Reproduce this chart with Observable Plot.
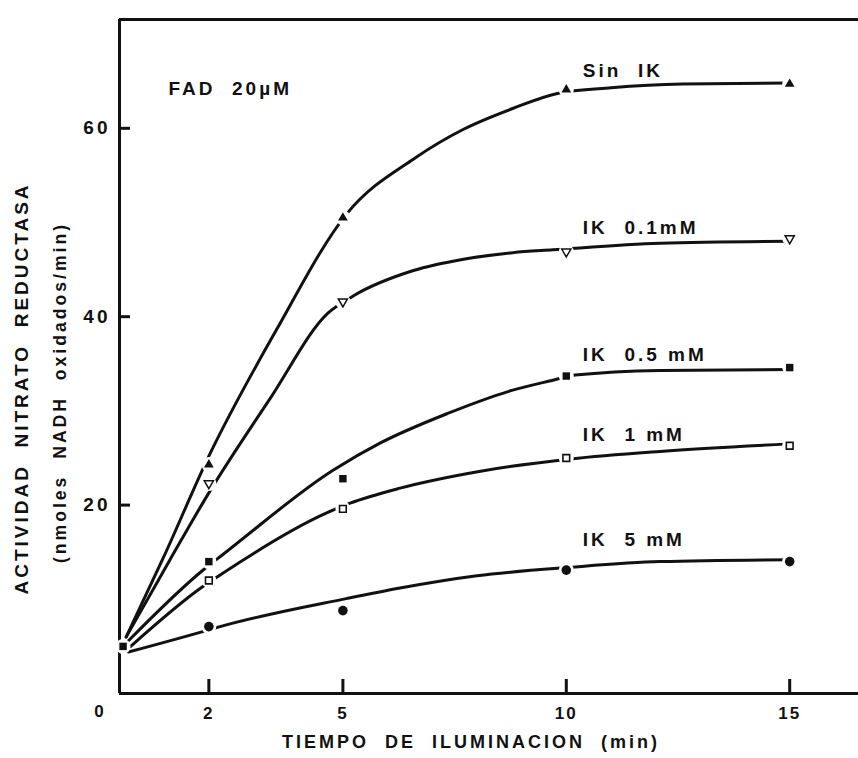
<!DOCTYPE html>
<html><head><meta charset="utf-8">
<script src="https://cdn.jsdelivr.net/npm/d3@7"></script>
<script src="https://cdn.jsdelivr.net/npm/@observablehq/plot@0.6"></script>
<style>
html,body{margin:0;padding:0;background:#fff;}
#chart svg text{white-space:pre;letter-spacing:3px;}
#chart svg g[aria-label="x-axis tick label"] text{letter-spacing:2px;}
</style></head><body><div id="chart"></div>
<script>
// ---- data ----
const seriesNames = ["Sin IK", "IK 0.1mM", "IK 0.5mM", "IK 1mM", "IK 5mM"];
const markerTimes = [2, 5, 10, 15];
const sinIK = [24.3, 50.5, 64.1, 64.7];
const ik01 = [22.3, 41.6, 46.9, 48.3];
const ik05 = [14.0, 22.8, 33.7, 34.6];
const ik1 = [12.0, 19.6, 25.0, 26.3];
const ik5 = [7.1, 8.8, 13.1, 14.0];
const startTime = [0.08];
const startValue = [5.0];

// smooth fitted curves (hand-drawn in original), read at several times
const sinIKCurveT = [0.15, 1, 2, 3.5, 5.1, 6.6, 7.7, 8.8, 9.8, 11, 12.6, 15];
const sinIKCurveV = [6.0, 14.6, 25.2, 38.5, 51.0, 56.8, 59.9, 62.1, 63.7, 64.3, 64.7, 64.8];
const ik01CurveT = [0.15, 1.13, 2, 3.37, 4.67, 5.23, 6.58, 7.7, 8.8, 9.7, 12.1, 15];
const ik01CurveV = [6.0, 14.2, 21.3, 31.3, 40.4, 42.2, 44.9, 46.1, 46.8, 47.1, 47.8, 48.0];
const ik05CurveT = [0.2, 1.92, 2.3, 4.78, 5.84, 7.33, 8.8, 9.65, 10.2, 12.1, 15];
const ik05CurveV = [5.6, 13.3, 14.7, 23.7, 26.6, 29.7, 32.2, 33.2, 33.8, 34.3, 34.4];
const ik1CurveT = [0.25, 1.85, 2.32, 4.65, 5.16, 6.28, 8.08, 10.1, 12.1, 15];
const ik1CurveV = [5.0, 11.3, 12.8, 19.2, 20.2, 21.8, 23.6, 24.9, 25.7, 26.5];
const ik5CurveT = [0.2, 1.96, 2.25, 5.1, 6.28, 8.0, 10.1, 12.1, 15];
const ik5CurveV = [4.4, 6.7, 7.1, 10.1, 11.2, 12.5, 13.4, 14.0, 14.2];

const labelTexts = ["Sin  IK", "IK  0.1mM", "IK  0.5 mM", "IK  1 mM", "IK  5 mM"];
const labelT = [10.37, 10.37, 10.37, 10.37, 10.37];
const labelV = [66.1, 49.4, 35.9, 27.4, 16.3];

const xTicks = [2, 5, 10, 15];
const yTicks = [20, 40, 60];
const xTitle = "TIEMPO  DE  ILUMINACION  (min)";
const yTitle1 = "ACTIVIDAD  NITRATO  REDUCTASA";
const yTitle2 = "(nmoles  NADH  oxidados/min)";
const noteText = "FAD  20µM";
const originLabel = ["0"];

// ---- build tables ----
const pointVals = [sinIK, ik01, ik05, ik1, ik5];
const curveT = [sinIKCurveT, ik01CurveT, ik05CurveT, ik1CurveT, ik5CurveT];
const curveV = [sinIKCurveV, ik01CurveV, ik05CurveV, ik1CurveV, ik5CurveV];
const points = seriesNames.map((s, i) => markerTimes.map((t, j) => ({series: s, t, v: pointVals[i][j]})));
const startPoints = startTime.map((t, i) => ({series: "start", t, v: startValue[i]}));
const allPoints = points.flat().concat(startPoints);
const curves = seriesNames.flatMap((s, i) => curveT[i].map((t, j) => ({series: s, t, v: curveV[i][j]})));
const labels = labelTexts.map((text, i) => ({text, t: labelT[i], v: labelV[i]}));

const triangleDown = {
  draw(ctx, size) {
    const y = -Math.sqrt(size / (Math.sqrt(3) * 3));
    ctx.moveTo(0, -y * 2);
    ctx.lineTo(-Math.sqrt(3) * y, y);
    ctx.lineTo(Math.sqrt(3) * y, y);
    ctx.closePath();
  }
};

const ink = "#111";
const font = "'Liberation Sans', Arial, Helvetica, sans-serif";
const W = 858, H = 758, mL = 119, mR = 0, mT = 19, mB = 65;
const xMax = 16.54, yMax = 71.55;
// inward tick lengths (pixels) converted to data units
const xTickLen = 14 * yMax / (H - mT - mB);
const yTickLen = 11 * xMax / (W - mL - mR);

const chart = Plot.plot({
  width: W,
  height: H,
  marginLeft: mL,
  marginRight: mR,
  marginTop: mT,
  marginBottom: mB,
  style: {fontFamily: font, fontWeight: "bold", color: ink, background: "#fff", overflow: "visible"},
  x: {domain: [0, xMax]},
  y: {domain: [0, yMax]},
  marks: [
    Plot.ruleX([0], {stroke: ink, strokeWidth: 3}),
    Plot.ruleY([0], {stroke: ink, strokeWidth: 3}),
    Plot.ruleY([yMax], {stroke: ink, strokeWidth: 3}),
    Plot.ruleX(xTicks, {x: d => d, y1: 0, y2: xTickLen, stroke: ink, strokeWidth: 3}),
    Plot.ruleY(yTicks, {y: d => d, x1: 0, x2: yTickLen, stroke: ink, strokeWidth: 3}),
    Plot.axisX({ticks: xTicks, tickSize: 0, tickPadding: 13, fontSize: 17, fontWeight: "bold", fill: ink, label: null, tickFormat: d => String(d)}),
    Plot.axisY({ticks: yTicks, tickSize: 0, tickPadding: 9, fontSize: 19, fontWeight: "bold", fill: ink, label: null, tickFormat: d => String(d)}),
    Plot.line(curves, {x: "t", y: "v", z: "series", curve: "monotone-x", stroke: ink, strokeWidth: 3, strokeLinecap: "round"}),
    Plot.dot(allPoints, {x: "t", y: "v", r: 7.5, fill: "white", stroke: null}),
    Plot.dot(points[0], {x: "t", y: "v", symbol: "triangle", r: 3.6, fill: ink, stroke: null}),
    Plot.dot(points[1], {x: "t", y: "v", symbol: triangleDown, r: 3.4, fill: "white", stroke: ink, strokeWidth: 1.5}),
    Plot.dot(points[2], {x: "t", y: "v", symbol: "square", r: 4.2, fill: ink, stroke: null}),
    Plot.dot(points[3], {x: "t", y: "v", symbol: "square", r: 3.8, fill: "white", stroke: ink, strokeWidth: 1.6}),
    Plot.dot(points[4], {x: "t", y: "v", symbol: "circle", r: 4.8, fill: ink, stroke: null}),
    Plot.dot(startPoints, {x: "t", y: "v", symbol: "square", r: 4.2, fill: ink, stroke: null}),
    Plot.text(labels, {x: "t", y: "v", text: "text", textAnchor: "start", fontSize: 19, fontWeight: "bold", fill: ink}),
    Plot.text([noteText], {frameAnchor: "top-left", dx: 49, dy: 62, textAnchor: "start", fontSize: 19, fontWeight: "bold", fill: ink}),
    Plot.text(originLabel, {frameAnchor: "bottom-left", dx: -19, dy: 23, textAnchor: "middle", fontSize: 17, fontWeight: "bold", fill: ink}),
    Plot.text([xTitle], {frameAnchor: "bottom", dx: -18, dy: 54, textAnchor: "middle", fontSize: 18, fontWeight: "bold", fill: ink}),
    Plot.text([yTitle1], {frameAnchor: "left", dx: -98, dy: 32, rotate: -90, textAnchor: "middle", fontSize: 19, fontWeight: "bold", fill: ink}),
    Plot.text([yTitle2], {frameAnchor: "left", dx: -59, dy: 36, rotate: -90, textAnchor: "middle", fontSize: 17.6, fontWeight: "bold", fill: ink})
  ]
});
document.getElementById("chart").appendChild(chart);
</script></body></html>
